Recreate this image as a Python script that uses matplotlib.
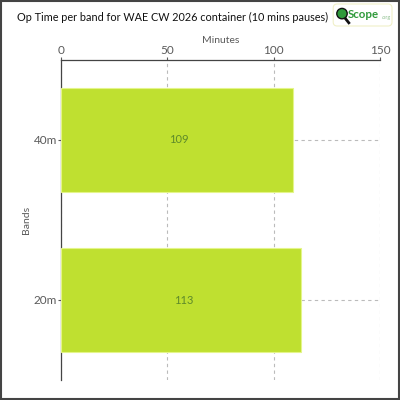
import matplotlib
matplotlib.use("Agg")
import matplotlib.pyplot as plt
from matplotlib.patches import FancyBboxPatch, Circle, Rectangle

bands = ["20m", "40m"]
minutes = [113, 109]
xticks = [0, 50, 100, 150]

plt.rcParams['font.family'] = ['Lato', 'DejaVu Sans']

fig = plt.figure(figsize=(4, 4), dpi=100)
ax = fig.add_axes([0.1525, 0.05, 0.7975, 0.80])

bar_color = '#bfe030'
ax.barh(range(len(bands)), minutes, height=0.65, color=bar_color,
        edgecolor='#e4f58a', linewidth=0.8, zorder=3)
for i, v in enumerate(minutes):
    ax.text(v / 2 + 1, i, str(v), ha='center', va='center', fontsize=8,
            color='#5e8a2a', zorder=4)

ax.set_xlim(0, 150)
ax.set_ylim(-0.5, 1.5)
ax.set_yticks(range(len(bands)))
ax.set_yticklabels(bands)
ax.set_xticks(xticks)
ax.xaxis.tick_top()
ax.xaxis.set_label_position('top')
ax.set_xlabel('Minutes', fontsize=7.5, color='#5a5a5a', labelpad=1)
ax.set_ylabel('Bands', fontsize=7.5, color='#5a5a5a', labelpad=2)
ax.tick_params(axis='both', labelsize=8.5, colors='#5a5a5a', length=2.5, width=0.8)
ax.tick_params(axis='x', pad=0.5)
ax.tick_params(axis='y', pad=0.5)
for s in ['right', 'bottom']:
    ax.spines[s].set_visible(False)
for s in ['left', 'top']:
    ax.spines[s].set_color('#444444')
    ax.spines[s].set_linewidth(0.9)
ax.grid(True, linestyle=(0, (3, 3)), color='#bbbbbb', linewidth=0.8, zorder=0)
ax.set_axisbelow(True)

fig.text(0.043, 0.9575, 'Op Time per band for WAE CW 2026 container (10 mins pauses)',
         fontsize=7.8, color='#111111', ha='left', va='center')

# logo
logo = FancyBboxPatch((0.833, 0.935), 0.147, 0.055, boxstyle='round,pad=0,rounding_size=0.01',
                      transform=fig.transFigure, facecolor='white', edgecolor='#f0f0c8',
                      linewidth=0.8, zorder=5)
fig.patches.append(logo)
fig.lines.append(plt.Line2D([0.860, 0.872], [0.958, 0.943], transform=fig.transFigure,
                            color='#111111', linewidth=2, zorder=6))
fig.patches.append(Circle((0.855, 0.966), 0.013, transform=fig.transFigure,
                          facecolor='#2f9a3a', edgecolor='#111111', linewidth=1.0, zorder=6))
fig.text(0.870, 0.964, 'Scope', fontsize=8.3, color='#2f9a3a', fontweight='bold',
         ha='left', va='center', zorder=7)
fig.text(0.953, 0.955, '.org', fontsize=4, color='#8fc08f', ha='left', va='center', zorder=7)

# outer border
fig.patches.append(Rectangle((0.002, 0.002), 0.996, 0.996, transform=fig.transFigure,
                             facecolor='none', edgecolor='#444444', linewidth=1.5, zorder=10))

fig.savefig('out.png', dpi=100)
